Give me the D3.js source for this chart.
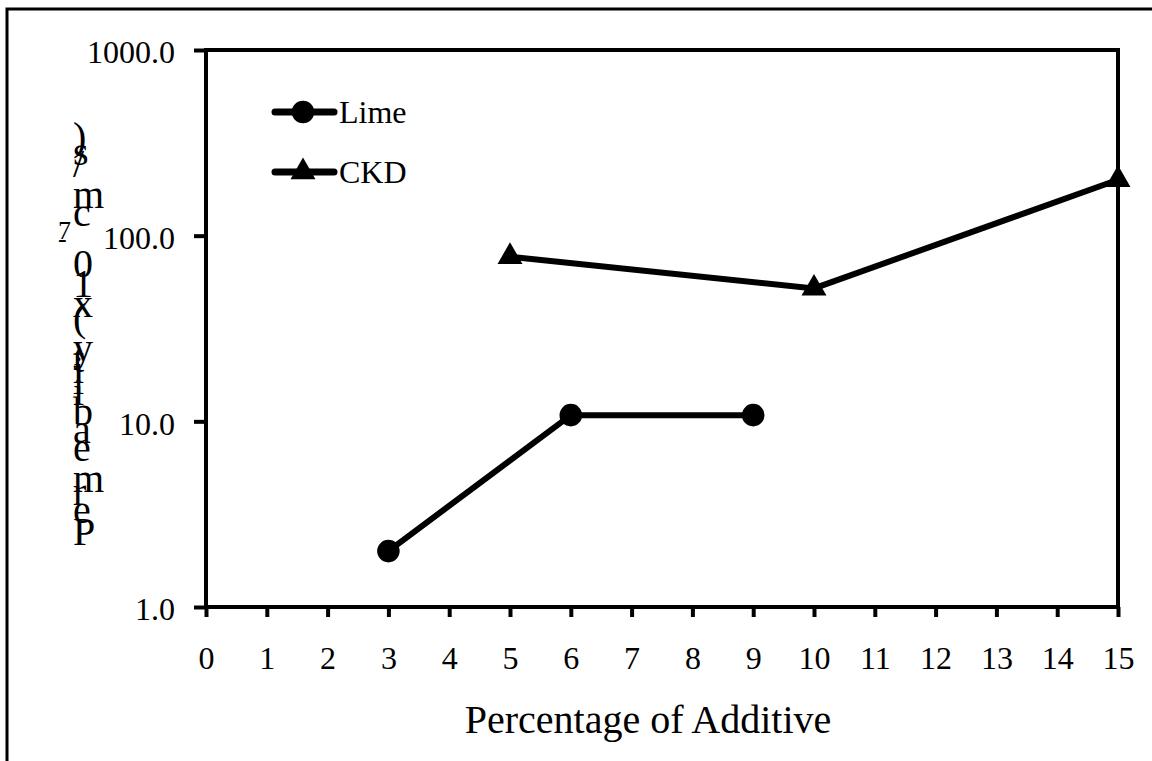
<!DOCTYPE html>
<html lang="en">
<head>
<meta charset="UTF-8">
<title>Permeability vs Percentage of Additive</title>
<script src="https://d3js.org/d3.v7.min.js"></script>
<style>
  html, body { margin: 0; padding: 0; background: #fff; }
  svg { display: block; }
  svg text { font-family: "Liberation Serif", "Times New Roman", serif; fill: #000; }
  .axis text { font-size: 32px; }
  .axis path { display: none; }
  .axis line { stroke: #000; stroke-width: 4; }
</style>
</head>
<body>
<svg width="1152" height="761"></svg>
<script>
// data
const limeX = [3, 6, 9];
const limeY = [2.0, 10.8, 10.8];
const ckdX = [5, 10, 15];
const ckdY = [77, 52, 200];
const xTickValues = [0, 1, 2, 3, 4, 5, 6, 7, 8, 9, 10, 11, 12, 13, 14, 15];
const yTickValues = [1, 10, 100, 1000];

const width = 1152, height = 761;
const margin = { top: 50, right: 34, bottom: 153, left: 206 };

const svg = d3.select("svg");

// outer frame (right and bottom edges fall outside the picture)
svg.append("rect")
  .attr("x", 7).attr("y", 9)
  .attr("width", 1170).attr("height", 780)
  .attr("fill", "#fff").attr("stroke", "#000").attr("stroke-width", 3);

const x = d3.scaleLinear().domain([0, 15]).range([margin.left, width - margin.right]);
const y = d3.scaleLog().domain([1, 1000]).range([height - margin.bottom - 1, margin.top]);

// plot box
svg.append("rect")
  .attr("x", x(0)).attr("y", y(1000))
  .attr("width", x(15) - x(0)).attr("height", y(1) - y(1000))
  .attr("fill", "none").attr("stroke", "#000").attr("stroke-width", 4);

// x axis
const gx = svg.append("g").attr("class", "axis")
  .attr("transform", `translate(0,${y(1)})`)
  .call(d3.axisBottom(x).tickValues(xTickValues).tickSize(10).tickSizeOuter(0).tickFormat(d3.format("d")));
gx.attr("font-family", null).attr("font-size", null);
gx.selectAll("text").attr("y", 62).attr("dy", 0);

// y axis
const gy = svg.append("g").attr("class", "axis")
  .attr("transform", `translate(${x(0)},0)`)
  .call(d3.axisLeft(y).tickValues(yTickValues).tickSize(12).tickSizeOuter(0).tickFormat(d3.format(".1f")));
gy.attr("font-family", null).attr("font-size", null);
gy.selectAll("text").attr("x", -31).attr("dy", "0.4em");

// x axis title
svg.append("text")
  .attr("x", 648).attr("y", 733)
  .attr("text-anchor", "middle")
  .style("font-size", "40px")
  .text("Percentage of Additive");

// y axis title: upright characters stacked bottom to top
const yTitle = [
  { t: "Permeability (x10", sup: false },
  { t: "-7", sup: true },
  { t: " cm/s)", sup: false }
];
const measure = svg.append("text").style("font-size", "40px").attr("visibility", "hidden");
let pos = 545;
yTitle.forEach(part => {
  const size = part.sup ? 26 : 40;
  measure.style("font-size", size + "px");
  for (const ch of part.t) {
    measure.text(ch === " " ? "\u00a0" : ch);
    const adv = measure.node().getComputedTextLength();
    if (ch !== " ") {
      svg.append("text")
        .attr("x", part.sup ? 58 : 73)
        .attr("y", part.sup ? pos - 10 : pos)
        .style("font-size", size + "px")
        .text(ch);
    }
    pos -= adv;
  }
});
measure.remove();

// series
const line = d3.line().x(d => x(d[0])).y(d => y(d[1]));
const limeData = limeX.map((v, i) => [v, limeY[i]]);
const ckdData = ckdX.map((v, i) => [v, ckdY[i]]);
const circle = d3.symbol().type(d3.symbolCircle).size(400);
const tri = d3.symbol().type(d3.symbolTriangle).size(270);

[[limeData, circle], [ckdData, tri]].forEach(([data, sym]) => {
  svg.append("path").datum(data)
    .attr("d", line)
    .attr("fill", "none").attr("stroke", "#000").attr("stroke-width", 6);
  svg.selectAll(null).data(data).enter().append("path")
    .attr("transform", d => `translate(${x(d[0])},${y(d[1])})`)
    .attr("d", sym).attr("fill", "#000");
});

// legend
const legend = [
  { name: "Lime", sym: circle, y: 112 },
  { name: "CKD", sym: tri, y: 172 }
];
legend.forEach(l => {
  svg.append("line")
    .attr("x1", 275).attr("x2", 334).attr("y1", l.y).attr("y2", l.y)
    .attr("stroke", "#000").attr("stroke-width", 7).attr("stroke-linecap", "round");
  svg.append("path")
    .attr("transform", `translate(303,${l.y})`)
    .attr("d", l.sym).attr("fill", "#000");
  svg.append("text")
    .attr("x", 339).attr("y", l.y + 11)
    .style("font-size", "32px")
    .text(l.name);
});
</script>
</body>
</html>
